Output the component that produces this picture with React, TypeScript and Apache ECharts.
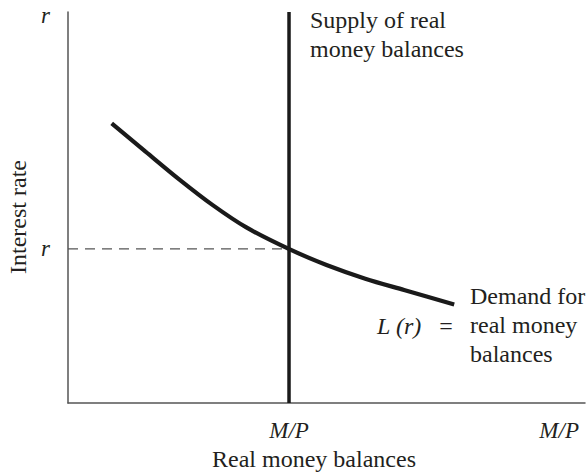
import React, { useEffect, useRef } from "react";
import * as echarts from "echarts";

// Demand for real money balances L(r): [real money balances, interest rate]
const demandX = [8.45, 15, 21.5, 28, 34.5, 42.7, 50, 57.5, 65, 74.7];
const demandY = [71.5, 64.3, 57.2, 50.6, 44.9, 39.4, 35.3, 31.8, 28.9, 25.2];

// Fixed supply of real money balances (M/P) and equilibrium interest rate r
const supplyX = 42.75;
const equilibriumR = 39.4;

// Axis tick labels
const xTickValues = [42.75, 95.0];
const xTickLabels = ["M/P", "M/P"];
const yTickValues = [39.4, 99.0];
const yTickLabels = ["r", "r"];

const xAxisTitle = "Real money balances";
const yAxisTitle = "Interest rate";
const supplyLabel = "Supply of real\nmoney balances";
const demandLabel = "Demand for\nreal money\nbalances";
const demandSymbol = "L (r)";

const FONT = "Liberation Serif";
const TEXT = "#231f20";

function labelFor(values: number[], labels: string[], v: number) {
  let best = 0;
  let d = Infinity;
  values.forEach((t, i) => {
    if (Math.abs(t - v) < d) {
      d = Math.abs(t - v);
      best = i;
    }
  });
  return labels[best];
}

function txt(text: string, x: number, y: number, extra: any = {}, styleExtra: any = {}) {
  return {
    type: "text",
    x,
    y,
    ...extra,
    style: {
      text,
      fontFamily: FONT,
      fontSize: 24,
      fill: TEXT,
      textAlign: "left",
      textVerticalAlign: "middle",
      ...styleExtra,
    },
  };
}

export default function App() {
  const ref = useRef<HTMLDivElement>(null);
  useEffect(() => {
    if (!ref.current) return;
    const chart = echarts.init(ref.current, null, { renderer: "svg" });
    const curve = demandX.map((x, i) => [x, demandY[i]]);
    chart.setOption({
      animation: false,
      backgroundColor: "#ffffff",
      grid: { left: 68, right: 2, top: 12, bottom: 71 },
      xAxis: {
        type: "value",
        min: 0,
        max: 100,
        axisLine: { show: true, lineStyle: { color: "#555", width: 1.5 } },
        axisTick: { show: false },
        splitLine: { show: false },
        axisLabel: {
          customValues: xTickValues,
          formatter: (v: number) => labelFor(xTickValues, xTickLabels, v),
          margin: 16,
          fontFamily: FONT,
          fontStyle: "italic",
          fontSize: 23,
          color: TEXT,
        },
      },
      yAxis: {
        type: "value",
        min: 0,
        max: 100,
        axisLine: { show: true, lineStyle: { color: "#555", width: 1.5 } },
        axisTick: { show: false },
        splitLine: { show: false },
        axisLabel: {
          customValues: yTickValues,
          formatter: (v: number) => labelFor(yTickValues, yTickLabels, v),
          margin: 18,
          fontFamily: FONT,
          fontStyle: "italic",
          fontSize: 23,
          color: TEXT,
        },
      },
      series: [
        {
          type: "line",
          data: [
            [0, equilibriumR],
            [supplyX, equilibriumR],
          ],
          symbol: "none",
          lineStyle: { color: "#555", width: 1.3, type: [10, 7] },
          z: 1,
        },
        {
          type: "line",
          data: [
            [supplyX, 0],
            [supplyX, 100],
          ],
          symbol: "none",
          lineStyle: { color: "#1a1a1a", width: 3.5 },
          z: 3,
        },
        {
          type: "line",
          data: curve,
          smooth: 0.3,
          symbol: "none",
          lineStyle: { color: "#1a1a1a", width: 4.2 },
          z: 2,
        },
      ],
      graphic: [
        txt(xAxisTitle, 314, 459, {}, { textAlign: "center" }),
        txt(yAxisTitle, 18, 217, { rotation: Math.PI / 2 }, { textAlign: "center" }),
        txt(supplyLabel, 310, 5.5, {}, { lineHeight: 29, textVerticalAlign: "top" }),
        txt(demandLabel, 470, 281.5, {}, { lineHeight: 29, textVerticalAlign: "top" }),
        txt(demandSymbol, 377, 326, {}, { fontStyle: "italic" }),
        txt("=", 446, 326, {}, { textAlign: "center" }),
      ],
    });
    return () => chart.dispose();
  }, []);
  return <div ref={ref} style={{ width: 587, height: 474, position: "absolute", left: 0, top: 0 }} />;
}
